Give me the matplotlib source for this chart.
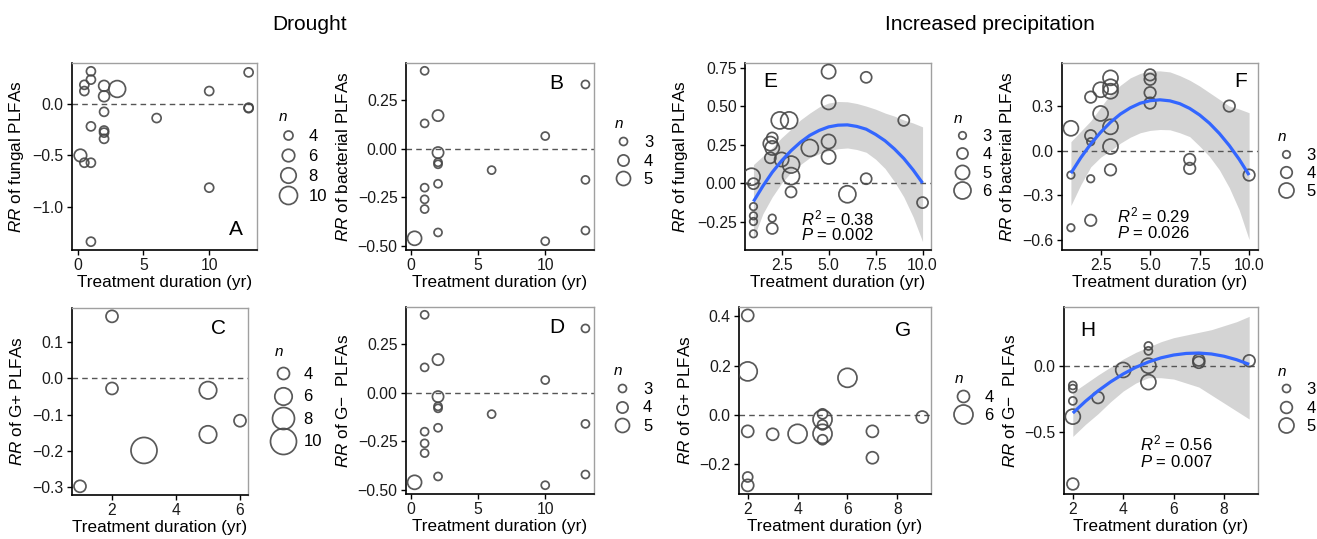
import numpy as np
import matplotlib
matplotlib.use("Agg")
import matplotlib.pyplot as plt
from matplotlib.lines import Line2D

plt.rcParams["font.family"] = "Liberation Sans"
plt.rcParams["mathtext.fontset"] = "custom"
plt.rcParams["mathtext.rm"] = "Liberation Sans"
plt.rcParams["mathtext.it"] = "Liberation Sans:italic"

# ---- Drought ----
# A: fungal PLFAs
A_x = [1, 0.5, 1, 0.5, 2, 2, 3, 2, 1, 2, 2, 2, 6, 0.2, 0.5, 1, 10, 10, 13, 13, 13, 1]
A_y = [0.31, 0.18, 0.23, 0.12, 0.17, 0.07, 0.14, -0.08, -0.22, -0.26, -0.28, -0.34,
       -0.14, -0.50, -0.57, -0.57, 0.12, -0.81, 0.30, -0.04, -0.045, -1.33]
A_n = [4, 4, 4, 4, 5, 5, 9, 4, 4, 4, 4, 4, 4, 6, 4, 4, 4, 4, 4, 4, 4, 4]

# B: bacterial PLFAs
B_x = [1, 1, 2, 2, 2, 2, 2, 1, 1, 1, 2, 0.25, 6, 10, 10, 13, 13, 13]
B_y = [0.40, 0.13, 0.17, -0.02, -0.07, -0.08, -0.18, -0.20, -0.26, -0.31, -0.43,
       -0.46, -0.11, 0.065, -0.475, 0.33, -0.16, -0.42]
B_n = [3, 3, 4, 4, 3, 3, 3, 3, 3, 3, 3, 5, 3, 3, 3, 3, 3, 3]

# C: G+ PLFAs
C_x = [2, 2, 5, 6, 5, 3, 1]
C_y = [0.171, -0.028, -0.033, -0.117, -0.155, -0.199, -0.298]
C_n = [4, 4, 6, 4, 6, 10, 4]

# D: G- PLFAs
D_x = [1, 1, 2, 2, 2, 2, 2, 1, 1, 1, 2, 0.25, 6, 10, 10, 13, 13, 13]
D_y = [0.40, 0.13, 0.17, -0.02, -0.07, -0.08, -0.18, -0.20, -0.26, -0.31, -0.43,
       -0.46, -0.11, 0.065, -0.475, 0.33, -0.16, -0.42]
D_n = [3, 3, 4, 4, 3, 3, 3, 3, 3, 3, 3, 5, 3, 3, 3, 3, 3, 3]

# ---- Increased precipitation ----
# E: fungal PLFAs
E_x = [5, 7, 5, 9, 2.4, 2.9, 2, 1.9, 2, 1.9, 2.5, 3, 3, 3, 4, 5, 5, 6, 7,
       0.9, 1, 1, 1, 1, 1, 2, 2, 10]
E_y = [0.724, 0.687, 0.524, 0.407, 0.407, 0.407, 0.293, 0.256, 0.228, 0.164, 0.153,
       0.12, 0.045, -0.058, 0.228, 0.27, 0.17, -0.073, 0.028,
       0.041, -0.004, -0.153, -0.213, -0.25, -0.33, -0.228, -0.295, -0.127]
E_n = [5, 4, 5, 4, 6, 6, 4, 5, 5, 4, 5, 6, 6, 4, 6, 5, 5, 6, 4,
       6, 4, 3, 3, 3, 3, 3, 4, 4]
E_fit_x = [1, 1.5, 2, 2.5, 3, 3.5, 4, 4.5, 5, 5.5, 6, 6.5, 7, 7.5, 8, 8.5, 9, 9.5, 10]
E_fit_y = [-0.12, -0.02, 0.07, 0.145, 0.21, 0.265, 0.31, 0.342, 0.365, 0.376, 0.378,
           0.368, 0.35, 0.316, 0.275, 0.222, 0.16, 0.085, 0.0]
E_fit_hi = [0.12, 0.175, 0.23, 0.295, 0.35, 0.41, 0.455, 0.495, 0.52, 0.53, 0.528,
            0.517, 0.50, 0.48, 0.455, 0.435, 0.41, 0.39, 0.365]
E_fit_lo = [-0.36, -0.20, -0.09, 0.0, 0.07, 0.12, 0.165, 0.19, 0.21, 0.223, 0.228,
            0.218, 0.20, 0.155, 0.095, 0.01, -0.09, -0.22, -0.38]

# F: bacterial PLFAs
F_x = [1, 1, 1, 2, 2, 2, 2, 2, 2.5, 2.5, 3, 3, 3, 3, 3, 3, 5, 5, 5, 5, 7, 7, 9, 10]
F_y = [0.15, -0.165, -0.52, 0.36, 0.10, 0.06, -0.19, -0.47, 0.41, 0.25, 0.49, 0.43,
       0.40, 0.16, 0.027, -0.13, 0.51, 0.48, 0.39, 0.32, -0.06, -0.12, 0.30, -0.165]
F_n = [5, 3, 3, 4, 4, 3, 3, 4, 5, 5, 5, 5, 5, 5, 5, 4, 4, 4, 4, 4, 4, 4, 4, 4]
F_fit_x = [1, 1.5, 2, 2.5, 3, 3.5, 4, 4.5, 5, 5.5, 6, 6.5, 7, 7.5, 8, 8.5, 9, 9.5, 10]
F_fit_y = [-0.153, -0.048, 0.044, 0.123, 0.191, 0.246, 0.288, 0.319, 0.336, 0.342,
           0.335, 0.316, 0.284, 0.240, 0.184, 0.115, 0.034, -0.059, -0.165]
F_fit_hi = [0.06, 0.13, 0.20, 0.29, 0.38, 0.44, 0.49, 0.52, 0.536, 0.537, 0.53,
            0.505, 0.474, 0.435, 0.39, 0.345, 0.30, 0.28, 0.255]
F_fit_lo = [-0.37, -0.23, -0.11, -0.045, 0.0, 0.05, 0.09, 0.12, 0.136, 0.142, 0.14,
            0.12, 0.094, 0.03, -0.04, -0.13, -0.25, -0.40, -0.60]

# G: G+ PLFAs
G_x = [2, 2, 2, 2, 2, 3, 4, 6, 5, 5, 5, 5, 5, 7, 7, 9]
G_y = [0.404, 0.177, -0.066, -0.251, -0.285, -0.078, -0.076, 0.151, 0.005, -0.018,
       -0.04, -0.076, -0.10, -0.066, -0.173, -0.008]
G_n = [4, 6, 4, 3.5, 4, 4, 6, 6, 3.5, 6, 3.5, 6, 3.5, 4, 4, 4]

# H: G- PLFAs
H_x = [2, 2, 2, 2, 2, 3, 4, 5, 5, 5, 5, 7, 7, 9]
H_y = [-0.148, -0.172, -0.264, -0.382, -0.887, -0.239, -0.032, 0.148, 0.111, 0.0,
       -0.123, 0.042, 0.025, 0.037]
H_n = [3, 3, 3, 5, 4, 4, 5, 3, 3, 5, 5, 4, 4, 4]
H_fit_x = [2, 2.5, 3, 3.5, 4, 4.5, 5, 5.5, 6, 6.5, 7, 7.5, 8, 8.5, 9]
H_fit_y = [-0.355, -0.267, -0.189, -0.121, -0.062, -0.012, 0.028, 0.059, 0.080,
           0.092, 0.095, 0.088, 0.071, 0.045, 0.010]
H_fit_hi = [-0.20, -0.135, -0.07, -0.01, 0.05, 0.10, 0.14, 0.18, 0.21, 0.23, 0.25,
            0.27, 0.30, 0.33, 0.37]
H_fit_lo = [-0.53, -0.44, -0.36, -0.27, -0.19, -0.13, -0.09, -0.09, -0.10, -0.13,
            -0.16, -0.22, -0.28, -0.34, -0.40]

EDGE = "#474747"
BLUE = "#3366FF"
RIBBON = "#d4d4d4"

fig = plt.figure(figsize=(13.17, 5.39), dpi=100)


def diam(n, lo, hi):
    # ggplot-like area scale: diameter (px) linear in sqrt(n)
    n = np.asarray(n, dtype=float)
    (n0, d0), (n1, d1) = lo, hi
    return d0 + (d1 - d0) * (np.sqrt(n) - np.sqrt(n0)) / (np.sqrt(n1) - np.sqrt(n0))


def panel(rect, x, y, n, lo, hi, breaks, ylabel, xlim, ylim, xticks, yticks,
          letter, letter_pos, leg_pos, leg_space, fit=None, stats=None, stats_pos=None):
    ax = fig.add_axes(rect)
    if fit is not None:
        fx, fy, fhi, flo = fit
        ax.fill_between(fx, flo, fhi, color=RIBBON, lw=0, zorder=1)
    ax.axhline(0, color="#555555", lw=1.0, ls=(0, (4, 3)), zorder=2)
    d = diam(n, lo, hi) * 0.72
    ax.scatter(x, y, s=d ** 2, facecolors="none", edgecolors=EDGE, linewidths=1.25,
               alpha=0.9, zorder=3)
    if fit is not None:
        ax.plot(fx, fy, color=BLUE, lw=2.3, zorder=4, solid_capstyle="butt",
                solid_joinstyle="round")
    ax.set_xlim(xlim)
    ax.set_ylim(ylim)
    ax.set_xticks(xticks)
    ax.set_yticks(yticks)
    ax.tick_params(direction="out", length=3.5, width=1, labelsize=11.3,
                   labelcolor="#1a1a1a", pad=2.5)
    for s in ["top", "right"]:
        ax.spines[s].set_color("#a0a0a0")
        ax.spines[s].set_linewidth(1.0)
    for s in ["left", "bottom"]:
        ax.spines[s].set_color("black")
        ax.spines[s].set_linewidth(1.2)
    ax.set_xlabel("Treatment duration (yr)", fontsize=12.3, labelpad=1)
    ax.set_ylabel(ylabel, fontsize=12.3, labelpad=5)
    ax.text(letter_pos[0], letter_pos[1], letter, transform=ax.transAxes,
            fontsize=15, ha="center", va="center")
    if stats is not None:
        ax.text(stats_pos[0], stats_pos[1], stats[0], transform=ax.transAxes,
                fontsize=12, ha="left", va="center")
        ax.text(stats_pos[0], stats_pos[2], stats[1], transform=ax.transAxes,
                fontsize=12, ha="left", va="center")
    handles = [Line2D([], [], marker="o", linestyle="", markersize=dd * 0.72,
                      markerfacecolor="none", markeredgecolor=EDGE,
                      markeredgewidth=1.25, alpha=0.9)
               for dd in diam(breaks, lo, hi)]
    ax.legend(handles, [str(b) for b in breaks], title="n", loc="upper left",
              bbox_to_anchor=leg_pos, frameon=False, fontsize=12,
              title_fontproperties={"style": "italic", "size": 11},
              handlelength=1.0, handletextpad=0.75, labelspacing=leg_space,
              borderpad=0, borderaxespad=0, alignment="left")
    return ax


panel([0.05467, 0.5362, 0.1405, 0.3469], A_x, A_y, A_n, (4, 9), (10, 18), [4, 6, 8, 10],
      r"$RR$ of fungal PLFAs", (-0.44, 13.64), (-1.41, 0.39), [0, 5, 10], [-1.0, -0.5, 0.0],
      "A", (0.886, 0.107), (1.12, 0.75), 0.3)

panel([0.30828, 0.5362, 0.14275, 0.3469], B_x, B_y, B_n, (3, 8), (5, 14), [3, 4, 5],
      r"$RR$ of bacterial PLFAs", (-0.39, 13.64), (-0.52, 0.44), [0, 5, 10],
      [-0.50, -0.25, 0.0, 0.25], "B", (0.80, 0.888), (1.11, 0.71), 0.22)

panel([0.05467, 0.08163, 0.13364, 0.3469], C_x, C_y, C_n, (4, 12), (10, 26), [4, 6, 8, 10],
      r"$RR$ of G+ PLFAs", (0.75, 6.25), (-0.322, 0.194), [2, 4, 6],
      [-0.3, -0.2, -0.1, 0.0, 0.1], "C", (0.83, 0.893), (1.15, 0.80), 0.45)

panel([0.30828, 0.08349, 0.14275, 0.3469], D_x, D_y, D_n, (3, 8), (5, 14), [3, 4, 5],
      "$RR$ of G\u2212  PLFAs", (-0.39, 13.64), (-0.52, 0.44), [0, 5, 10],
      [-0.50, -0.25, 0.0, 0.25], "D", (0.80, 0.888), (1.106, 0.695), 0.22)

panel([0.56568, 0.5362, 0.14123, 0.3469], E_x, E_y, E_n, (3, 7.5), (6, 17), [3, 4, 5, 6],
      r"$RR$ of fungal PLFAs", (0.55, 10.45), (-0.435, 0.78), [2.5, 5.0, 7.5, 10.0],
      [-0.25, 0.0, 0.25, 0.5, 0.75], "E", (0.134, 0.90), (1.12, 0.74), 0.2,
      fit=(E_fit_x, E_fit_y, E_fit_hi, E_fit_lo),
      stats=(r"$R^2$ = 0.38", r"$P$ = 0.002"), stats_pos=(0.30, 0.17, 0.08))

panel([0.80638, 0.5362, 0.14882, 0.3469], F_x, F_y, F_n, (3, 7.5), (5, 15), [3, 4, 5],
      r"$RR$ of bacterial PLFAs", (0.55, 10.45), (-0.67, 0.59), [2.5, 5.0, 7.5, 10.0],
      [-0.6, -0.3, 0.0, 0.3], "F", (0.91, 0.90), (1.10, 0.64), 0.2,
      fit=(F_fit_x, F_fit_y, F_fit_hi, F_fit_lo),
      stats=(r"$R^2$ = 0.29", r"$P$ = 0.026"), stats_pos=(0.28, 0.187, 0.09))

panel([0.56112, 0.08349, 0.14579, 0.3469], G_x, G_y, G_n, (4, 12), (6, 19), [4, 6],
      r"$RR$ of G+ PLFAs", (1.65, 9.35), (-0.32, 0.438), [2, 4, 6, 8],
      [-0.2, 0.0, 0.2, 0.4], "G", (0.854, 0.877), (1.125, 0.65), 0.2)

panel([0.80790, 0.08349, 0.14730, 0.3469], H_x, H_y, H_n, (3, 8), (5, 15), [3, 4, 5],
      "$RR$ of G\u2212  PLFAs", (1.65, 9.35), (-0.962, 0.44), [2, 4, 6, 8],
      [-0.5, 0.0], "H", (0.124, 0.877), (1.10, 0.69), 0.2,
      fit=(H_fit_x, H_fit_y, H_fit_hi, H_fit_lo),
      stats=(r"$R^2$ = 0.56", r"$P$ = 0.007"), stats_pos=(0.39, 0.27, 0.17))

fig.text(0.235, 0.954, "Drought", fontsize=15, ha="center", va="center")
fig.text(0.752, 0.954, "Increased precipitation", fontsize=15, ha="center", va="center")

fig.savefig("out.png", dpi=100)
